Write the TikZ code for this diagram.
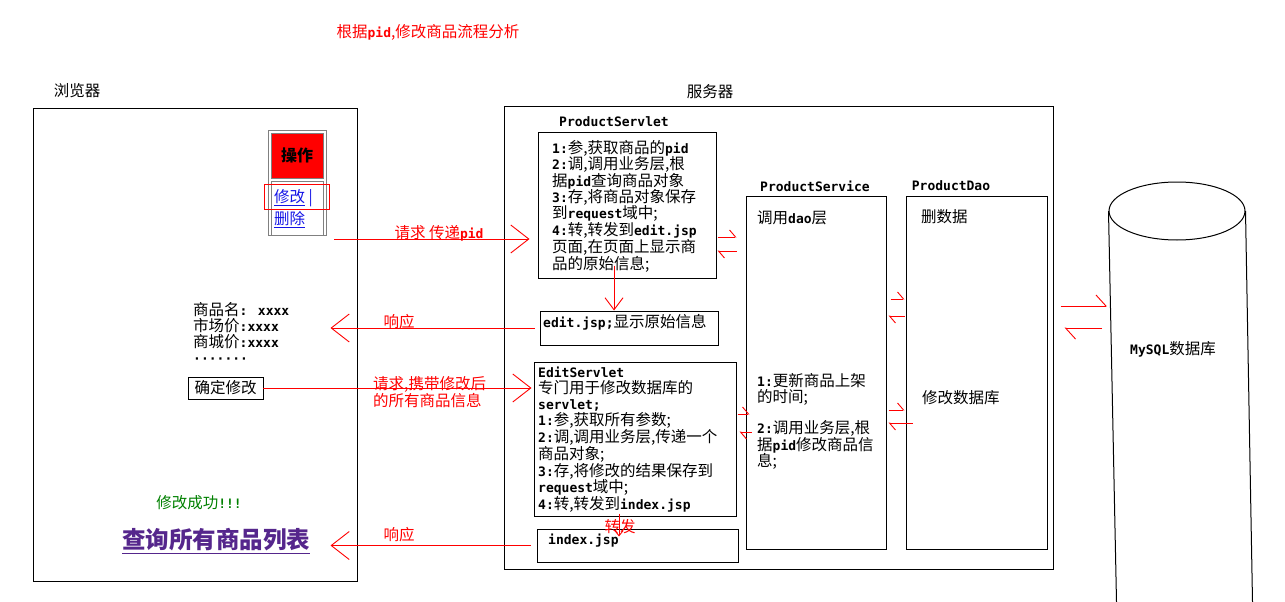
\documentclass[tikz,border=0pt]{standalone}
\usepackage{fontspec}
\setmainfont{Noto Sans CJK SC}
\newfontfamily\monofont{DejaVu Sans Mono}
\usetikzlibrary{arrows.meta,positioning,calc,shapes.geometric}
\definecolor{linkblue}{RGB}{20,20,230}
\definecolor{listpurple}{RGB}{85,38,140}
\definecolor{okgreen}{RGB}{0,128,0}
\newcommand{\bodyfont}{\fontsize{15.5}{16}\selectfont}
\newcommand{\lblfont}{\fontsize{15.5}{15}\selectfont}
\newcommand{\en}[1]{{\monofont\bfseries\fontsize{13}{16}\selectfont #1}}

\begin{document}
\begin{tikzpicture}[x=1pt, y=-1pt,
    box/.style={draw, line width=1pt, inner sep=0pt},
    txt/.style={align=left, anchor=north west, inner sep=0pt, font=\bodyfont},
    lbl/.style={text=red, inner sep=0pt, font=\lblfont},
    title/.style={inner sep=0pt, font=\bodyfont},
    bigtip/.style={draw=red, line width=0.9pt, -{Straight Barb[length=18pt,width=28pt]}},
    smalltip/.style={draw=red, line width=0.9pt, -{Straight Barb[length=12pt,width=18pt]}},
    harp/.style={draw=red, line width=0.9pt, -{Straight Barb[harpoon,length=6pt,width=14pt]}},
    bigharp/.style={draw=red, line width=0.9pt, -{Straight Barb[harpoon,length=10pt,width=22pt]}}
]
    \useasboundingbox (0,0) rectangle (1285,602);

    % Title
    \node[lbl] (title) at (428,32) {根据\en{pid},修改商品流程分析};

    % Browser
    \node[box, minimum width=324pt, minimum height=473pt] (browser) at (195,344.5) {};
    \node[title] (browserlbl) at (77,91) {浏览器};

    % operation table
    \node[draw=gray, line width=0.8pt, minimum width=58pt, minimum height=105pt, inner sep=0pt] (optable) at (297,182.5) {};
    \node[draw=gray, fill=red, line width=0.8pt, minimum width=52pt, minimum height=45pt, inner sep=0pt, font=\fontsize{16}{16}\selectfont\bfseries] (opcell) at (297,155.5) {操作};
    \node[draw=gray, line width=0.8pt, minimum width=52pt, minimum height=54pt, inner sep=0pt] (linkcell) at (297,208) {};
    \node[txt, text=linkblue] (links) at (274,189) {\underline{修改} |\\[4pt]\underline{删除}};
    \node[draw=red, line width=0.8pt, minimum width=65pt, minimum height=25pt, inner sep=0pt] (editmark) at (296.5,196.5) {};
    \coordinate (reqpid) at (334,239);

    % product info form
    \node[txt] (info) at (193,302) {商品名\en{: xxxx}\\ 市场价\en{:xxxx}\\ 商城价\en{:xxxx}\\ \en{·······}};
    \node[box, line width=0.8pt, minimum width=75pt, minimum height=22pt, font=\bodyfont] (btnok) at (225.5,388) {确定修改};

    % result
    \node[inner sep=0pt, text=okgreen, font=\bodyfont] (okmsg) at (199,503) {修改成功\en{!!!}};
    \node[inner sep=0pt, text=listpurple, font=\fontsize{23.5}{26}\selectfont\bfseries] (listlink) at (216,541) {\underline{查询所有商品列表}};

    % Server
    \node[box, minimum width=549pt, minimum height=463pt] (server) at (778.5,337.5) {};
    \node[title] (serverlbl) at (710,92) {服务器};

    % ProductServlet
    \node[box, minimum width=178pt, minimum height=146pt] (ps) at (627,205) {};
    \node[inner sep=0pt] (pslbl) at (614,122) {\en{ProductServlet}};
    \node[txt] (pstext) at (552,140) {\en{1:}参,获取商品的\en{pid}\\ \en{2:}调,调用业务层,根\\ 据\en{pid}查询商品对象\\ \en{3:}存,将商品对象保存\\ 到\en{request}域中;\\ \en{4:}转,转发到\en{edit.jsp}\\ 页面,在页面上显示商\\ 品的原始信息;};

    \node[box, minimum width=178pt, minimum height=34pt] (editjsp) at (629,328) {};
    \node[txt, anchor=west] (editjsptext) at (543,322) {\en{edit.jsp;}显示原始信息};

    % EditServlet
    \node[box, minimum width=202pt, minimum height=154pt] (es) at (635,439) {};
    \node[txt] (estext) at (538,367) {\en{EditServlet}\\ 专门用于修改数据库的\\ \en{servlet;}\\ \en{1:}参,获取所有参数;\\ \en{2:}调,调用业务层,传递一个\\ 商品对象;\\ \en{3:}存,将修改的结果保存到\\ \en{request}域中;\\ \en{4:}转,转发到\en{index.jsp}};

    \node[box, minimum width=201pt, minimum height=33pt] (idx) at (637.5,545.5) {};
    \node[txt, anchor=west] (idxtext) at (548,541) {\en{index.jsp}};

    % ProductService / ProductDao
    \node[box, minimum width=140pt, minimum height=353pt] (svc) at (816,372.5) {};
    \node[inner sep=0pt] (svclbl) at (815,186) {\en{ProductService}};
    \node[txt, anchor=west] (svctop) at (757,218) {调用\en{dao}层};
    \node[txt] (svctext) at (757,373) {\en{1:}更新商品上架\\ 的时间;\\[15pt] \en{2:}调用业务层,根\\ 据\en{pid}修改商品信\\ 息;};

    \node[box, minimum width=141pt, minimum height=353pt] (dao) at (976.5,372.5) {};
    \node[inner sep=0pt] (daolbl) at (951,186) {\en{ProductDao}};
    \node[txt, anchor=west] (daotop) at (921,217) {删数据};
    \node[txt, anchor=west] (daomid) at (922,398) {修改数据库};

    % MySQL
    \node[draw, ellipse, line width=1pt, minimum width=136pt, minimum height=58pt, inner sep=0pt] (dbtop) at (1177,211) {};
    \draw[line width=1pt] (dbtop.west) -- ++(8,391);
    \draw[line width=1pt] (dbtop.east) -- ++(7,391);
    \node[inner sep=0pt, font=\bodyfont] (db) at (1173,349) {\en{MySQL}数据库};
    \coordinate (dbwall) at (1111,317);

    % Browser <-> servlets
    \draw[bigtip] (reqpid) -- ($(reqpid -| ps.west)+(-8,0)$);
    \node[lbl] at (439,233) {请求 传递\en{pid}};
    \draw[bigtip] ($(editjsp.west)+(-5,0)$) -- ($(editjsp.west -| browser.east)+(-27,0)$);
    \node[lbl] at (399,322) {响应};
    \draw[bigtip] (btnok.east) -- ($(btnok.east -| es.west)+(-2,0)$);
    \node[lbl, align=left, anchor=north west] at (373,376) {请求,携带修改后\\的所有商品信息};
    \draw[bigtip] ($(idx.west)+(-6,0)$) -- ($(idx.west -| browser.east)+(-27,0)$);
    \node[lbl] at (399,535) {响应};

    % inside server
    \draw[smalltip] ($(ps.south)+(-13,-13)$) -- ($(editjsp.north)+(-15,0)$);
    \draw[red, line width=0.9pt, -{Straight Barb[length=5pt,width=8pt]}] ($(es.south)+(-16,-3)$) -- ($(idx.north)+(-18.5,8)$);
    \node[lbl] at (620,527) {转发};

    \draw[harp] ($(ps.east)+(1,32)$) -- ($(ps.east -| svc.west)+(-9,32)$);
    \draw[harp] ($(ps.east -| svc.west)+(-9,46)$) -- ($(ps.east)+(1,46)$);
    \draw[harp] ($(es.east)+(1,-25)$) -- ($(es.east -| svc.west)+(4,-25)$);
    \draw[harp] ($(es.east -| svc.west)+(6,-7)$) -- ($(es.east)+(3,-7)$);
    \draw[harp] ($(svc.east)+(4,-73.5)$) -- ($(dao.west)+(-1,-73.5)$);
    \draw[harp] ($(dao.west)+(-1,-56.5)$) -- ($(svc.east)+(2,-56.5)$);
    \draw[harp] ($(svc.east)+(2,37.5)$) -- ($(dao.west)+(-1,37.5)$);
    \draw[harp] ($(dao.west)+(7,50.5)$) -- ($(svc.east)+(2,50.5)$);

    % server <-> database
    \draw[bigharp] ($(server.east)+(7,-31.5)$) -- ($(dbwall)+(-4,-11)$);
    \draw[bigharp] ($(dbwall)+(-9,11)$) -- ($(server.east)+(11,-9.5)$);
\end{tikzpicture}
\end{document}
